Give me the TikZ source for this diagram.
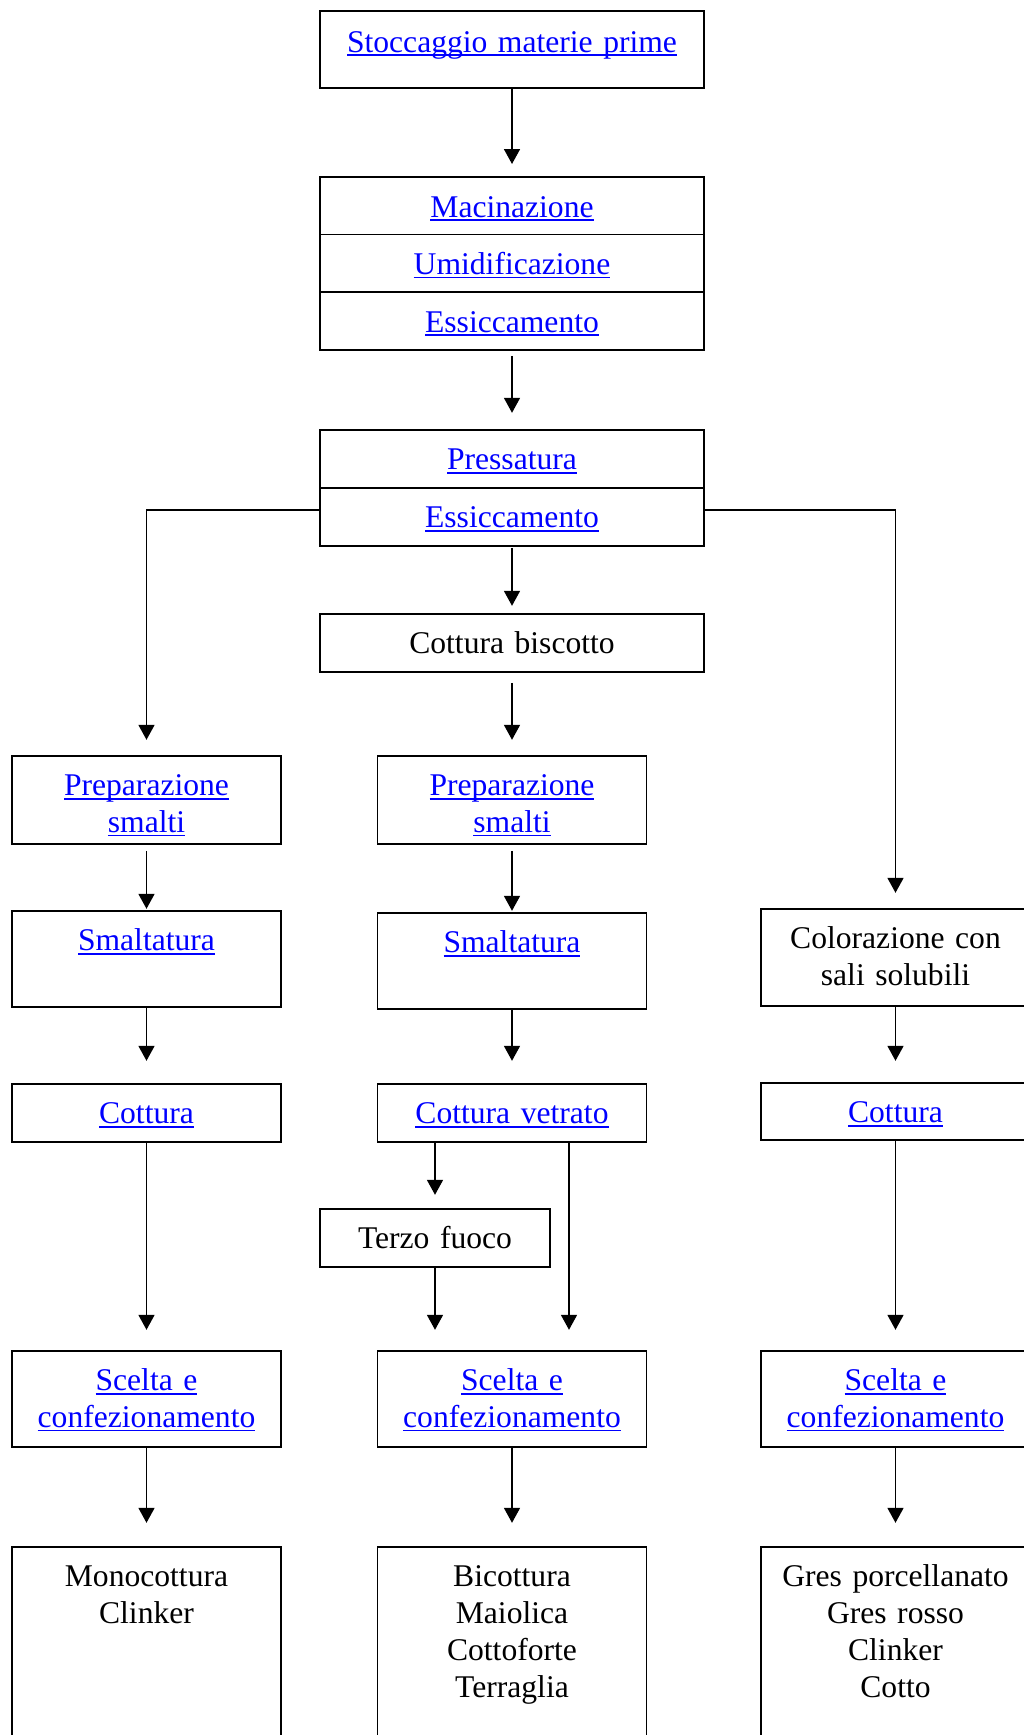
\documentclass[tikz,border=0pt]{standalone}
\usepackage{fontspec}
\setmainfont{Liberation Serif}
\usetikzlibrary{positioning, arrows.meta}

\newcommand\linktext[1]{\leavevmode{\color{blue}\setbox0=\hbox{#1}\rlap{\rule[-1.9pt]{\wd0}{0.9pt}}\box0}}

\begin{document}
\begin{tikzpicture}[
        font=\fontsize{15.8}{18.4}\selectfont,
        base_node/.style={draw, line width=0.85pt, inner sep=0pt, outer sep=0pt, align=center, text height=20pt},
        wide_node/.style={base_node, text width=192pt},
        col_node/.style={base_node, text width=134.5pt},
        arrow/.style={-{Triangle[length=7.5pt, width=8pt]}, line width=0.85pt, shorten >=8pt}
    ]
        \useasboundingbox (0,0) rectangle (511.5pt,-867.5pt);

        % Nodes
        \node (stock) [wide_node, text height=20.5pt, text depth=18pt, anchor=north] at (256pt,-5.5pt) {\linktext{Stoccaggio materie prime}};
        \node (mac) [wide_node, text depth=8.8pt, below=44.5pt of stock] {\linktext{Macinazione}};
        \node (umi) [wide_node, text depth=8.8pt, below=0pt of mac] {\linktext{Umidificazione}};
        \node (essA) [wide_node, text depth=8.8pt, below=0pt of umi] {\linktext{Essiccamento}};
        \node (press) [wide_node, text depth=9pt, below=40pt of essA] {\linktext{Pressatura}};
        \node (essB) [wide_node, text depth=9pt, below=0pt of press] {\linktext{Essiccamento}};
        \node (bisc) [wide_node, text depth=9pt, below=34pt of essB] {Cottura biscotto};

        % Central column
        \node (prepB) [col_node, text depth=24pt, below=42pt of bisc] {\linktext{Preparazione}\\\linktext{smalti}};
        \node (smaltB) [col_node, text depth=28pt, below=34.5pt of prepB] {\linktext{Smaltatura}};
        \node (cottB) [col_node, text depth=9pt, below=37.5pt of smaltB] {\linktext{Cottura vetrato}};
        \node (terzo) [base_node, text width=115pt, text depth=9pt, below=33.5pt of cottB, xshift=-38.5pt] {Terzo fuoco};
        \node (scelB) [col_node, text depth=28pt, below=104.5pt of cottB] {\linktext{Scelta e}\\\linktext{confezionamento}};
        \node (prodB) [col_node, text depth=100pt, below=50pt of scelB] {Bicottura\\Maiolica\\Cottoforte\\Terraglia};

        % Left column
        \node (prepA) [col_node, text depth=24pt, left=48.25pt of prepB] {\linktext{Preparazione}\\\linktext{smalti}};
        \node (smaltA) [col_node, text depth=28pt, below=33.5pt of prepA] {\linktext{Smaltatura}};
        \node (cottA) [col_node, text depth=9pt, below=38.5pt of smaltA] {\linktext{Cottura}};
        \node (scelA) [col_node, text depth=28pt, below=104.5pt of cottA] {\linktext{Scelta e}\\\linktext{confezionamento}};
        \node (prodA) [col_node, text depth=100pt, below=50pt of scelA] {Monocottura\\Clinker};

        % Right column
        \node (color) [col_node, text depth=28.5pt, right=57.25pt of smaltB, yshift=1.75pt] {Colorazione con\\sali solubili};
        \node (cottC) [col_node, text depth=8.5pt, below=38.5pt of color] {\linktext{Cottura}};
        \node (scelC) [col_node, text depth=28pt, below=105.5pt of cottC] {\linktext{Scelta e}\\\linktext{confezionamento}};
        \node (prodC) [col_node, text depth=100pt, below=50pt of scelC] {Gres porcellanato\\Gres rosso\\Clinker\\Cotto};

        % Arrows
        \draw [arrow, shorten >=6.5pt] (stock) -- (mac);
        \draw [arrow, shorten <=3pt, shorten >=8.5pt] (essA) -- (press);
        \draw [arrow, shorten <=1pt, shorten >=4pt] (essB) -- (bisc);
        \draw [arrow, shorten <=5.5pt] (bisc) -- (prepB);
        \draw [arrow] ([yshift=3.5pt]essB.west) -| (prepA);
        \draw [arrow] ([yshift=3.5pt]essB.east) -| (color);
        \draw [arrow, shorten <=3.5pt, shorten >=1pt] (prepA) -- (smaltA);
        \draw [arrow, shorten <=3.5pt, shorten >=1pt] (prepB) -- (smaltB);
        \draw [arrow, shorten >=11.5pt] (smaltA) -- (cottA);
        \draw [arrow, shorten >=11.5pt] (smaltB) -- (cottB);
        \draw [arrow, shorten >=11pt] (color) -- (cottC);
        \draw [arrow, shorten >=7pt] (cottB.south -| terzo) -- (terzo);
        \draw [arrow, shorten >=10.5pt] ([xshift=28.5pt]cottB.south) -- ([xshift=28.5pt]scelB.north);
        \draw [arrow, shorten >=10.5pt] (terzo) -- (terzo |- scelB.north);
        \draw [arrow, shorten >=10.5pt] (cottA) -- (scelA);
        \draw [arrow, shorten >=10.5pt] (cottC) -- (scelC);
        \draw [arrow, shorten >=12pt] (scelA) -- (prodA);
        \draw [arrow, shorten >=12pt] (scelB) -- (prodB);
        \draw [arrow, shorten >=12pt] (scelC) -- (prodC);
    \end{tikzpicture}
\end{document}
